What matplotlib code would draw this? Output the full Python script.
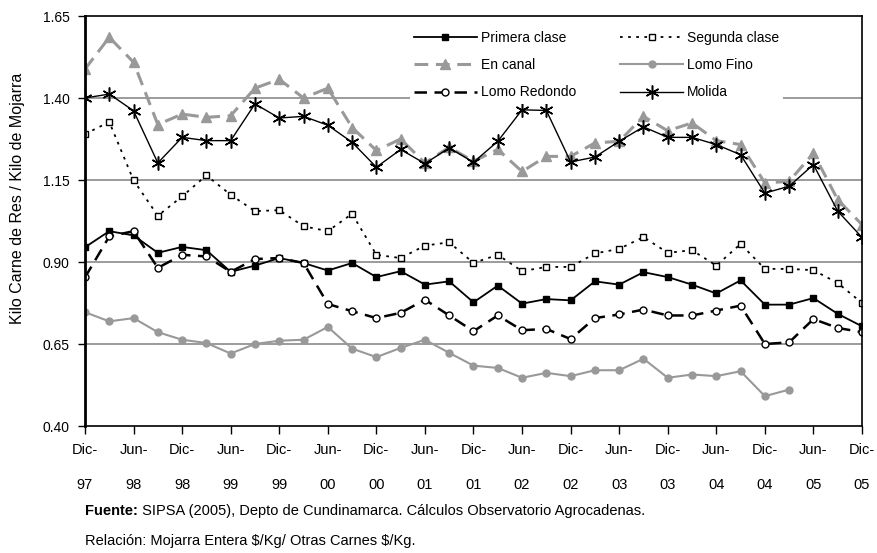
import numpy as np
import matplotlib
matplotlib.use("Agg")
import matplotlib.pyplot as plt
from matplotlib import font_manager

nan = np.nan

# semestral tick labels (data is quarterly, 33 points Dic-97 .. Dic-05)
tick_labels = ["Dic-\n97", "Jun-\n98", "Dic-\n98", "Jun-\n99", "Dic-\n99", "Jun-\n00",
               "Dic-\n00", "Jun-\n01", "Dic-\n01", "Jun-\n02", "Dic-\n02", "Jun-\n03",
               "Dic-\n03", "Jun-\n04", "Dic-\n04", "Jun-\n05", "Dic-\n05"]

primera = [0.945, 0.994, 0.981, 0.928, 0.946, 0.936, 0.870, 0.889, 0.912, 0.897, 0.874,
           0.897, 0.854, 0.872, 0.831, 0.841, 0.777, 0.828, 0.773, 0.787, 0.783, 0.841,
           0.831, 0.869, 0.854, 0.831, 0.804, 0.844, 0.770, 0.770, 0.790, 0.742, 0.704]
segunda = [1.290, 1.327, 1.149, 1.041, 1.100, 1.164, 1.105, 1.055, 1.058, 1.009, 0.994,
           1.047, 0.922, 0.912, 0.950, 0.960, 0.897, 0.922, 0.872, 0.885, 0.885, 0.926,
           0.940, 0.976, 0.928, 0.936, 0.889, 0.955, 0.879, 0.879, 0.875, 0.836, 0.775]
en_canal = [1.488, 1.585, 1.509, 1.319, 1.351, 1.341, 1.346, 1.430, 1.457, 1.400, 1.430,
            1.310, 1.240, 1.275, 1.202, 1.250, 1.207, 1.243, 1.176, 1.222, 1.222, 1.263,
            1.268, 1.344, 1.300, 1.324, 1.270, 1.258, 1.141, 1.146, 1.232, 1.090, 1.014]
lomo_fino = [0.747, 0.719, 0.729, 0.686, 0.663, 0.653, 0.621, 0.650, 0.660, 0.663, 0.702,
             0.636, 0.610, 0.638, 0.663, 0.623, 0.584, 0.577, 0.547, 0.562, 0.552, 0.570,
             0.570, 0.605, 0.547, 0.557, 0.552, 0.567, 0.491, 0.511, nan, nan, nan]
lomo_redondo = [0.853, 0.978, 0.994, 0.882, 0.922, 0.917, 0.870, 0.909, 0.912, 0.897, 0.772,
                0.750, 0.729, 0.745, 0.785, 0.737, 0.689, 0.737, 0.692, 0.696, 0.665, 0.729,
                0.740, 0.755, 0.737, 0.737, 0.752, 0.767, 0.650, 0.655, 0.726, 0.699, 0.686]
molida = [1.400, 1.412, 1.361, 1.202, 1.280, 1.270, 1.270, 1.382, 1.339, 1.344, 1.317,
          1.265, 1.189, 1.243, 1.200, 1.248, 1.204, 1.268, 1.364, 1.362, 1.205, 1.220,
          1.268, 1.312, 1.280, 1.280, 1.258, 1.227, 1.110, 1.131, 1.197, 1.055, 0.975]

y_ticks = [0.40, 0.65, 0.90, 1.15, 1.40, 1.65]

installed = {f.name for f in font_manager.fontManager.ttflist}
narrow = "Liberation Sans Narrow" if "Liberation Sans Narrow" in installed else "Liberation Sans"
plt.rcParams["font.family"] = ["Liberation Sans", "DejaVu Sans"]
plt.rcParams["font.size"] = 10

gray = "#999999"
x = np.arange(len(primera))

fig = plt.figure(figsize=(8.78, 5.53), dpi=100)
ax = fig.add_axes([85 / 878, 1 - 426 / 553, 777 / 878, 410 / 553])

l1, = ax.plot(x, primera, color="black", lw=1.3, marker="s", ms=4.5, label="Primera clase")
l2, = ax.plot(x, segunda, color="black", lw=1.3, ls=(0, (1.5, 3)), marker="s", ms=5,
              mfc="white", mec="black", mew=1.0, label="Segunda clase")
l3, = ax.plot(x, en_canal, color=gray, lw=2.2, ls=(0, (4.5, 2.5)), marker="^", ms=6.5,
              mfc=gray, mec=gray, label="En canal")
l4, = ax.plot(x, lomo_fino, color=gray, lw=1.5, marker="o", ms=5, mfc=gray, mec=gray,
              label="Lomo Fino")
l5, = ax.plot(x, lomo_redondo, color="black", lw=1.8, ls=(0, (5, 3)), marker="o", ms=5,
              mfc="white", mec="black", mew=1.0, label="Lomo Redondo")
l6, = ax.plot(x, molida, color="black", lw=1.0, marker=(6, 2, 0), ms=10, mew=1.1,
              label="Molida")

ax.set_xlim(0, 32)
ax.set_ylim(0.40, 1.65)
ax.set_yticks(y_ticks)
ax.set_yticklabels([f"{v:.2f}" for v in y_ticks])
ax.set_xticks(np.arange(0, 33, 2))
ax.set_xticklabels(tick_labels, linespacing=2.9, family=narrow, fontsize=10.5)
ax.tick_params(axis="x", length=6, width=1, pad=6, direction="out")
ax.tick_params(axis="y", length=5, width=1, pad=6, direction="out")

for v in y_ticks[1:-1]:
    ax.axhline(v, color="#808080", lw=1.1, zorder=0.5)
for s in ["top", "right", "bottom"]:
    ax.spines[s].set_linewidth(1.2)
ax.spines["left"].set_linewidth(2)

# legend filled column-wise, so order handles to read row-wise like the original
handles = [l1, l3, l5, l2, l4, l6]
leg = ax.legend(handles=handles, ncol=2, loc="upper left",
                bbox_to_anchor=(403 / 878, 1 - 20 / 553), bbox_transform=fig.transFigure,
                frameon=True, fancybox=False, edgecolor="none", facecolor="white",
                framealpha=1, handlelength=4.5, handletextpad=0.3, columnspacing=3.2,
                labelspacing=0.95, borderpad=0.3, fontsize=10)
leg.set_zorder(5)

fig.text(18 / 878, 1 - 198 / 553, "Kilo Carne de Res / Kilo de Mojarra", rotation=90,
         ha="center", va="center", fontsize=11.5)

t1 = fig.text(85 / 878, 1 - 511 / 553, "Fuente:", fontweight="bold", va="center",
              family=narrow, fontsize=10.5)
ax.annotate(" SIPSA (2005), Depto de Cundinamarca. Cálculos Observatorio Agrocadenas.",
            xy=(1, 0.5), xycoords=t1, va="center", family=narrow, fontsize=10.5,
            annotation_clip=False)
fig.text(85 / 878, 1 - 541 / 553, r"Relación: Mojarra Entera \$/Kg/ Otras Carnes \$/Kg.",
         va="center", family=narrow, fontsize=10.5)

fig.savefig("out.png", dpi=100)
